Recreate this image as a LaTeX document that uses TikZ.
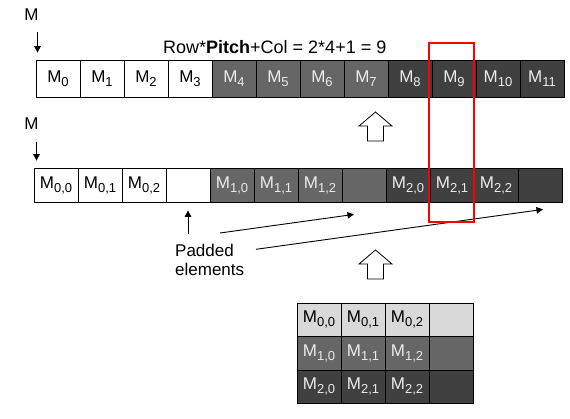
\documentclass[tikz,border=0pt]{standalone}
\usepackage{fontspec}
\setmainfont{Liberation Sans}
\usetikzlibrary{arrows.meta,positioning,calc}
\definecolor{midgray}{RGB}{102,102,102}
\definecolor{deepgray}{RGB}{64,64,64}
\definecolor{palegray}{RGB}{217,217,217}
\definecolor{celltext}{RGB}{235,235,235}
\newcommand{\Mx}[1]{M\raisebox{-4pt}{\fontsize{13}{13}\selectfont #1}}

\begin{document}
\begin{tikzpicture}[x=1pt,y=-1pt,
      cell/.style={draw,line width=0.8pt,inner sep=0pt,minimum width=44pt,
        font=\fontsize{17}{19}\selectfont},
      wcell/.style={cell,fill=white},
      gcell/.style={cell,fill=midgray,text=celltext},
      dcell/.style={cell,fill=deepgray,text=celltext},
      lbl/.style={inner sep=0pt,font=\fontsize{17}{19}\selectfont},
      arr/.style={-{Triangle[length=6.5pt,width=6.5pt]},line width=0.9pt},
      uparr/.pic={\draw[line width=0.8pt,fill=white] (0,0) -- (16.5,14) -- (8,14)
        -- (8,29) -- (-8,29) -- (-8,14) -- (-16.5,14) -- cycle;}]
    \useasboundingbox (0,0) rectangle (570,418);
    % flat array M[0..11]
    \foreach \i in {0,...,3}
      \node[wcell,minimum height=37pt] (t\i) at (58+44*\i,78.5) {\Mx{\i}};
    \foreach \i in {4,...,7}
      \node[gcell,minimum height=37pt] (t\i) at (58+44*\i,78.5) {\Mx{\i}};
    \foreach \i in {8,...,11}
      \node[dcell,minimum height=37pt] (t\i) at (58+44*\i,78.5) {\Mx{\i}};
    \node[lbl,anchor=base west,font=\fontsize{18}{20}\selectfont] (formula) at (163,53.3)
      {Row*\textbf{Pitch}+Col = 2*4+1 = 9};
    \node[lbl] (mtop) at (31.5,15) {M};
    \draw[arr] ([xshift=6pt,yshift=-10.5pt]mtop.south)
      -- ([xshift=6pt,yshift=7pt]mtop.south |- t0.north);
    % padded rows
    \foreach \r/\fc/\tc in {0/white/black,1/midgray/celltext,2/deepgray/celltext}
      \foreach \c in {0,...,3}
        \node[cell,fill=\fc,text=\tc,minimum height=34pt] (m\r\c)
          at (56+44*4*\r+44*\c,185) {\ifnum\c<3 \Mx{\r,\c}\fi};
    \node[lbl] (mmid) at (31.5,124) {M};
    \draw[arr] ([xshift=5pt,yshift=-11.5pt]mmid.south)
      -- ([xshift=5pt,yshift=7pt]mmid.south |- m00.north);
    \node[lbl,align=left,anchor=north west] (pad) at (175,243.5) {Padded\\elements};
    \draw[arr] ($(m03.south |- pad.north)+(0,-10)$) -- ([yshift=-8pt]m03.south);
    \draw[arr] ($(pad.north west)+(45,-10.5)$) -- ($(m13.south)+(-10,12)$);
    \draw[arr] ($(pad.north west)+(81,5.8)$) -- ($(m23.south)+(3,7)$);
    % 2D matrix
    \foreach \r/\fc/\tc in {0/palegray/black,1/midgray/celltext,2/deepgray/celltext}
      \foreach \c in {0,...,3}
        \node[cell,fill=\fc,text=\tc,minimum height=33.5pt] (b\r\c)
          at (319+44*\c,319.7+33.5*\r) {\ifnum\c<3 \Mx{\r,\c}\fi};
    \pic at (375.5,112) {uparr};
    \pic at (375.5,250) {uparr};
    % M[2][1] highlight
    \draw[red,line width=2pt] (429,43) rectangle (474,222);
  \end{tikzpicture}
\end{document}
